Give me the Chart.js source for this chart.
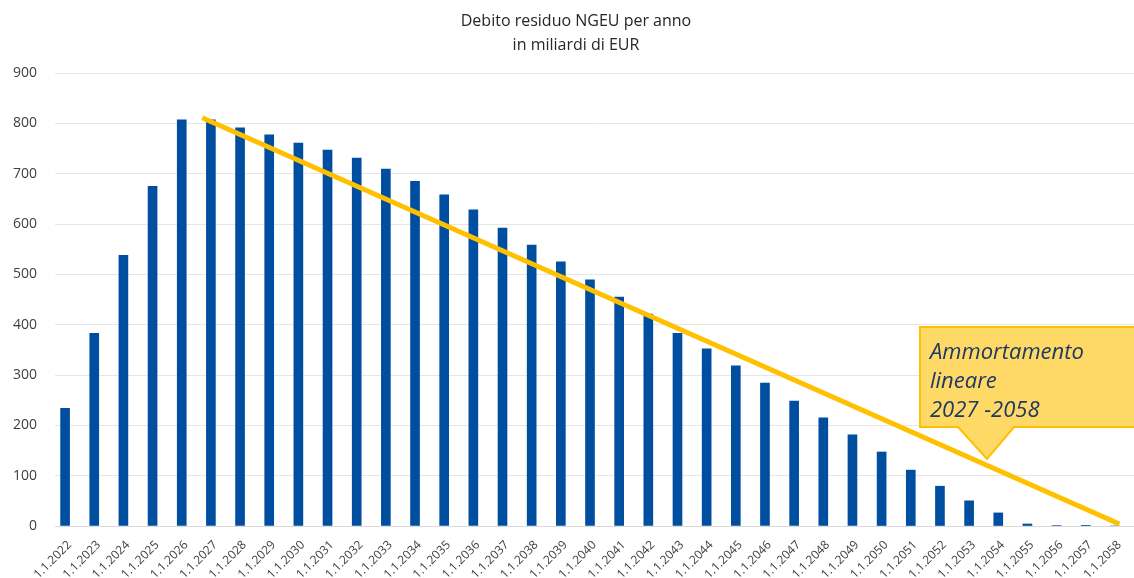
<!DOCTYPE html>
<html>
<head>
<meta charset="utf-8">
<script src="https://cdn.jsdelivr.net/npm/chart.js@4/dist/chart.umd.min.js"></script>
<style>
  html, body { margin: 0; padding: 0; background: #fff; }
  #wrap { width: 1134px; height: 578px; position: relative; }
</style>
</head>
<body>
<div id="wrap"><canvas id="debtChart"></canvas></div>
<script>
// anni (etichette asse x)
const years = [];
for (let y = 2022; y <= 2058; y++) years.push('1.1.' + y);

// debito residuo NGEU, miliardi di EUR
const debt = [234, 383, 538, 675, 807, 807, 791, 777, 761, 747,
              731, 709, 685, 658, 628, 592, 558, 525, 489, 455,
              421, 383, 352, 318, 284, 248, 215, 181, 147, 111,
              79, 50, 26, 4, 1, 0.5, 0];

// retta di ammortamento lineare 2027-2058 (posizione in indice di categoria)
const lineIdx = [4.55, 36];
const lineVal = [811, 4];

const yTicks = [0, 100, 200, 300, 400, 500, 600, 700, 800, 900];

const titleLines = ['Debito residuo NGEU per anno', 'in miliardi di EUR'];
const calloutLines = ['Ammortamento', 'lineare', '2027 -2058'];

// Title (centred over the plot like the original) + callout box
const overlayPlugin = {
    id: 'overlay',
    afterDraw(chart) {
        const ctx = chart.ctx;
        ctx.save();
        // titolo
        ctx.fillStyle = '#262626';
        ctx.font = '16px "Open Sans", sans-serif';
        ctx.textAlign = 'center';
        ctx.textBaseline = 'alphabetic';
        titleLines.forEach((t, i) => ctx.fillText(t, 576, 26 + i * 24));

        // callout
        const left = 920, top = 327, right = 1136, bottom = 427;
        const tipX = 987, tipY = 459, baseL = 958, baseR = 1014;
        ctx.beginPath();
        ctx.moveTo(left, top);
        ctx.lineTo(right, top);
        ctx.lineTo(right, bottom);
        ctx.lineTo(baseR, bottom);
        ctx.lineTo(tipX, tipY);
        ctx.lineTo(baseL, bottom);
        ctx.lineTo(left, bottom);
        ctx.closePath();
        ctx.fillStyle = '#FFD966';
        ctx.fill();
        ctx.lineWidth = 2;
        ctx.strokeStyle = '#FFC000';
        ctx.stroke();
        ctx.fillStyle = '#1F3864';
        ctx.font = 'italic 22px "Open Sans", sans-serif';
        ctx.textAlign = 'left';
        calloutLines.forEach((t, i) => ctx.fillText(t, 930, 359 + i * 29));
        ctx.restore();
    }
};

const ctx = document.getElementById('debtChart').getContext('2d');
const chart = new Chart(ctx, {
    data: {
        labels: years,
        datasets: [{
            type: 'bar',
            data: debt,
            backgroundColor: '#004EA0',
            borderWidth: 0,
            barThickness: 9,
            xAxisID: 'x',
            order: 2
        }, {
            type: 'line',
            data: lineIdx.map((v, i) => ({x: v, y: lineVal[i]})),
            borderColor: '#FFC000',
            borderWidth: 5,
            pointRadius: 0,
            fill: false,
            xAxisID: 'xl',
            order: 1
        }]
    },
    options: {
        responsive: true,
        maintainAspectRatio: false,
        animation: false,
        layout: { padding: { left: 0, right: 0, top: 73, bottom: 0 } },
        plugins: {
            legend: { display: false },
            tooltip: { enabled: false },
            title: { display: false }
        },
        scales: {
            x: {
                type: 'category',
                offset: true,
                grid: { display: false },
                border: { display: true, color: '#D9D9D9' },
                ticks: {
                    color: '#404040',
                    font: { family: '"Open Sans", sans-serif', size: 12 },
                    minRotation: 45,
                    maxRotation: 45,
                    autoSkip: false,
                    padding: 4
                },
                afterFit(scale) {
                    scale.height = 52;
                    scale.paddingLeft = 0;
                    scale.paddingRight = 0;
                }
            },
            xl: {
                type: 'linear',
                display: false,
                min: -0.5,
                max: years.length - 0.5
            },
            y: {
                min: 0,
                max: 900,
                afterBuildTicks(scale) {
                    scale.ticks = yTicks.map(v => ({value: v}));
                },
                border: { display: false },
                grid: { color: '#E6E6E6', drawTicks: false },
                ticks: {
                    color: '#404040',
                    font: { family: '"Open Sans", sans-serif', size: 14 },
                    padding: 18
                },
                afterFit(scale) {
                    scale.width = 55;
                }
            }
        }
    },
    plugins: [overlayPlugin]
});
</script>
</body>
</html>
